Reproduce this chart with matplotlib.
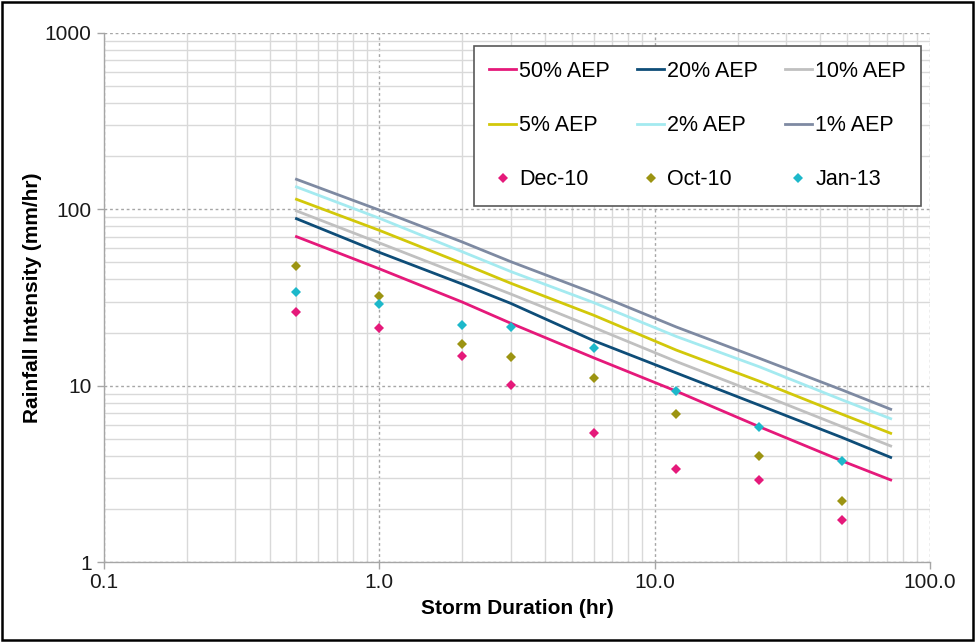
import numpy as np
import matplotlib.pyplot as plt
from matplotlib.patches import Rectangle
from matplotlib.ticker import FixedLocator, FixedFormatter, LogLocator, NullFormatter

plt.rcParams['font.family'] = ['Liberation Sans', 'DejaVu Sans']

##### IFD curves (mm/hr) by duration (hr)
durations = [0.5, 1, 2, 3, 6, 12, 24, 48, 72]
aep_labels = ['50% AEP', '20% AEP', '10% AEP', '5% AEP', '2% AEP', '1% AEP']
aep_50 = [70, 46, 29.8, 22.6, 14.4, 9.3, 5.85, 3.74, 2.92]
aep_20 = [88.5, 57, 37.7, 29.3, 18.0, 11.8, 7.75, 5.08, 3.92]
aep_10 = [98, 64.5, 42.3, 33.1, 21.4, 13.7, 9.0, 5.85, 4.55]
aep_5 = [114, 76, 49.4, 38.1, 25.1, 15.9, 10.6, 6.88, 5.37]
aep_2 = [134, 89, 57.5, 44.4, 29.6, 19.0, 12.8, 8.3, 6.5]
aep_1 = [148, 99, 65.3, 50.5, 33.5, 21.5, 14.3, 9.45, 7.35]

##### observed storms
event_durations = [0.5, 1, 2, 3, 6, 12, 24, 48]
event_labels = ['Dec-10', 'Oct-10', 'Jan-13']
dec_10 = [26.1, 21.1, 14.7, 10.05, 5.41, 3.38, 2.93, 1.73]
oct_10 = [47.9, 32.2, 17.2, 14.5, 11.1, 6.9, 3.97, 2.22]
jan_13 = [34.1, 29.0, 22.1, 21.6, 16.3, 9.36, 5.85, 3.75]

x_ticks = [0.1, 1, 10, 100]
x_tick_labels = ['0.1', '1.0', '10.0', '100.0']
y_ticks = [1, 10, 100, 1000]
y_tick_labels = ['1', '10', '100', '1000']

line_colors = ['#E5197A', '#0E4D78', '#C0C0C0', '#D2C80A', '#A4EAF0', '#7E8AA2']
event_colors = ['#E5197A', '#9C9412', '#1DB8CA']


def main():
    fig = plt.figure(figsize=(9.75, 6.44), dpi=100)
    ax = fig.add_axes([0.1067, 0.1273, 0.8471, 0.8215])

    handles = []
    for vals, lab, c in zip([aep_50, aep_20, aep_10, aep_5, aep_2, aep_1], aep_labels, line_colors):
        h, = ax.plot(durations, vals, color=c, lw=2.0, label=lab, zorder=3)
        handles.append(h)
    for vals, lab, c in zip([dec_10, oct_10, jan_13], event_labels, event_colors):
        h, = ax.plot(event_durations, vals, ls='none', marker='D', ms=4.8, color=c,
                     markeredgewidth=0, label=lab, zorder=4)
        handles.append(h)

    ax.set_xscale('log')
    ax.set_yscale('log')
    ax.set_xlim(0.1, 100)
    ax.set_ylim(1, 1000)

    ax.xaxis.set_major_locator(FixedLocator(x_ticks))
    ax.xaxis.set_major_formatter(FixedFormatter(x_tick_labels))
    ax.yaxis.set_major_locator(FixedLocator(y_ticks))
    ax.yaxis.set_major_formatter(FixedFormatter(y_tick_labels))
    ax.xaxis.set_minor_locator(LogLocator(base=10, subs=np.arange(2, 10)))
    ax.yaxis.set_minor_locator(LogLocator(base=10, subs=np.arange(2, 10)))
    ax.xaxis.set_minor_formatter(NullFormatter())
    ax.yaxis.set_minor_formatter(NullFormatter())

    ax.grid(True, which='minor', color='#D9D9D9', lw=1.0, ls='-', zorder=0)
    ax.grid(True, which='major', color='#A6A6A6', lw=1.0, ls=(0, (2, 2)), zorder=0)
    ax.set_axisbelow(True)

    for s in ['top', 'right']:
        ax.spines[s].set_visible(False)
    for s in ['left', 'bottom']:
        ax.spines[s].set_color('#A6A6A6')
        ax.spines[s].set_linewidth(1.0)
    ax.tick_params(which='major', length=5, width=1, color='#A6A6A6', labelsize=15,
                   labelcolor='#1a1a1a', pad=4)
    ax.tick_params(axis='x', which='major', pad=3)
    ax.tick_params(which='minor', length=0)

    ax.set_xlabel('Storm Duration (hr)', fontsize=15, fontweight='bold', labelpad=5)
    ax.set_ylabel('Rainfall Intensity (mm/hr)', fontsize=15, fontweight='bold', labelpad=2)

    # matplotlib fills legend column by column, reorder so rows read like the original
    order = [0, 3, 6, 1, 4, 7, 2, 5, 8]
    leg = ax.legend([handles[i] for i in order], [handles[i].get_label() for i in order],
                    ncol=3, loc='upper right', bbox_to_anchor=(0.9891, 0.976),
                    fontsize=15.5, frameon=True, fancybox=False, framealpha=1,
                    edgecolor='#595959', handlelength=1.25, handletextpad=0.15,
                    columnspacing=1.25, labelspacing=1.55, borderpad=0.7, borderaxespad=0)
    leg.get_frame().set_linewidth(1.2)

    fig.patches.append(Rectangle((0.002, 0.006), 0.996, 0.991, transform=fig.transFigure,
                                 fill=False, edgecolor='#000000', lw=1.8))

    fig.savefig('out.png', dpi=100)


if __name__ == "__main__":
    main()
